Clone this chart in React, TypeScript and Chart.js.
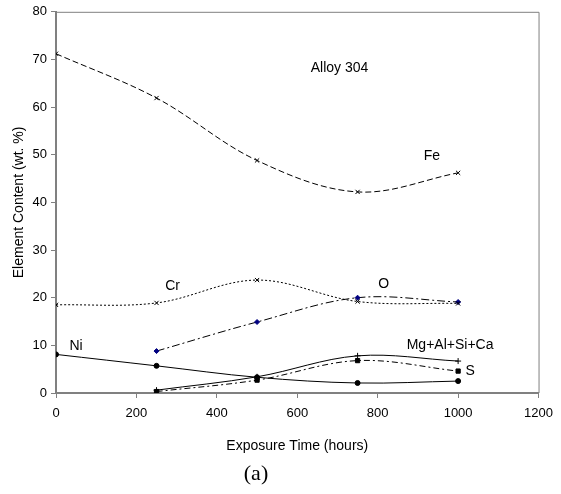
import React, { useEffect, useRef } from "react";
import { Chart, registerables } from "chart.js";

Chart.register(...registerables);

const hoursFe = [0, 250, 500, 750, 1000];
const fe = [71.2, 61.9, 48.8, 42.2, 46.2];
const hoursCr = [0, 250, 500, 750, 1000];
const cr = [18.5, 18.9, 23.7, 19.2, 18.8];
const hoursO = [250, 500, 750, 1000];
const oxy = [8.8, 14.9, 20.0, 19.1];
const hoursNi = [0, 250, 500, 750, 1000];
const ni = [8.1, 5.7, 3.3, 2.1, 2.5];
const hoursMg = [250, 500, 750, 1000];
const mgAlSiCa = [0.6, 3.4, 7.8, 6.7];
const hoursS = [250, 500, 750, 1000];
const sul = [0.3, 2.7, 6.8, 4.6];

const xTicks = [0, 200, 400, 600, 800, 1000, 1200];
const yTicks = [0, 10, 20, 30, 40, 50, 60, 70, 80];

const labels = [
  { text: "Alloy 304", x: 705, y: 68.2 },
  { text: "Fe", x: 935, y: 49.8 },
  { text: "Cr", x: 290, y: 22.5 },
  { text: "O", x: 815, y: 22.8 },
  { text: "Ni", x: 50, y: 9.8 },
  { text: "Mg+Al+Si+Ca", x: 980, y: 10.0 },
  { text: "S", x: 1030, y: 4.6 },
];

const toPts = (xs: number[], ys: number[]) => xs.map((x, i) => ({ x, y: ys[i] }));

export default function App() {
  const ref = useRef<HTMLCanvasElement>(null);
  useEffect(() => {
    document.body.style.margin = "0";
    const font = "'Liberation Sans', Arial, sans-serif";
    const textPlugin = {
      id: "texts",
      afterDraw(chart: any) {
        const { ctx, chartArea, scales } = chart;
        ctx.save();
        ctx.strokeStyle = "#808080";
        ctx.lineWidth = 1;
        ctx.beginPath();
        ctx.moveTo(chartArea.left, chartArea.top + 0.5);
        ctx.lineTo(chartArea.right + 0.5, chartArea.top + 0.5);
        ctx.lineTo(chartArea.right + 0.5, chartArea.bottom);
        ctx.stroke();
        ctx.fillStyle = "#000";
        ctx.font = `14px ${font}`;
        ctx.textAlign = "center";
        ctx.textBaseline = "middle";
        for (const l of labels) {
          ctx.fillText(l.text, scales.x.getPixelForValue(l.x), scales.y.getPixelForValue(l.y));
        }
        ctx.font = "22px 'Liberation Serif', 'Times New Roman', serif";
        ctx.fillText("(a)", 256, 474);
        ctx.restore();
      },
    };
    const base = { borderWidth: 1, tension: 0.35, fill: false, pointBorderWidth: 1 };
    const chart = new Chart(ref.current!, {
      type: "line",
      data: {
        datasets: [
          { ...base, label: "Fe", data: toPts(hoursFe, fe), borderColor: "#000", borderDash: [6, 3], pointStyle: "crossRot", pointRadius: 3, pointBorderColor: "#000" },
          { ...base, label: "Cr", data: toPts(hoursCr, cr), borderColor: "#000", borderDash: [2, 2], pointStyle: "crossRot", pointRadius: 3, pointBorderColor: "#000" },
          { ...base, label: "O", data: toPts(hoursO, oxy), borderColor: "#000", borderDash: [8, 3, 2, 3], pointStyle: "rectRot", pointRadius: 2.5, pointBackgroundColor: "#000080", pointBorderColor: "#000080" },
          { ...base, label: "Ni", data: toPts(hoursNi, ni), borderColor: "#000", pointStyle: "circle", pointRadius: 2.5, pointBackgroundColor: "#000", pointBorderColor: "#000" },
          { ...base, label: "Mg+Al+Si+Ca", data: toPts(hoursMg, mgAlSiCa), borderColor: "#000", pointStyle: "cross", pointRadius: 3, pointBorderColor: "#000" },
          { ...base, label: "S", data: toPts(hoursS, sul), borderColor: "#000", borderDash: [6, 3, 2, 3], pointStyle: "rect", pointRadius: 3, pointBackgroundColor: "#000", pointBorderColor: "#000" },
        ],
      },
      options: {
        animation: false,
        responsive: false,
        layout: { padding: { top: 11, right: 17, left: 0, bottom: 37 } },
        plugins: { legend: { display: false }, tooltip: { enabled: false } },
        scales: {
          x: {
            type: "linear",
            min: 0,
            max: 1200,
            afterBuildTicks: (s: any) => { s.ticks = xTicks.map((v) => ({ value: v })); },
            afterFit: (s: any) => { s.height = 64; },
            ticks: { color: "#000", font: { family: font, size: 13 }, padding: 8, maxRotation: 0, callback: (v: any) => String(v) },
            grid: { drawOnChartArea: false, drawTicks: true, tickLength: 5, color: "#808080" },
            border: { color: "#808080", width: 2 },
            title: { display: true, text: "Exposure Time (hours)", color: "#000", font: { family: font, size: 14 }, padding: { top: 8, bottom: 2 } },
          },
          y: {
            type: "linear",
            min: 0,
            max: 80,
            afterBuildTicks: (s: any) => { s.ticks = yTicks.map((v) => ({ value: v })); },
            afterFit: (s: any) => { s.width = 56; },
            ticks: { color: "#000", font: { family: font, size: 13 }, padding: 4, callback: (v: any) => String(v) },
            grid: { drawOnChartArea: false, drawTicks: true, tickLength: 5, color: "#808080" },
            border: { color: "#808080", width: 2 },
            title: { display: true, text: "Element Content (wt. %)", color: "#000", font: { family: font, size: 14 }, padding: { top: 11, bottom: 4 } },
          },
        },
      },
      plugins: [textPlugin],
    });
    return () => chart.destroy();
  }, []);
  return <canvas ref={ref} width={561} height={494} style={{ display: "block" }} />;
}
